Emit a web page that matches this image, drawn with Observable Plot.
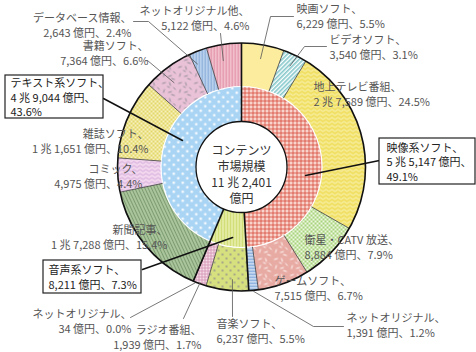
<!DOCTYPE html>
<html><head><meta charset="utf-8">
<script src="https://cdn.jsdelivr.net/npm/d3@7"></script>
<script src="https://cdn.jsdelivr.net/npm/@observablehq/plot@0.6"></script>
<style>
body{margin:0;background:#fff;}
#chart svg{display:block;}
</style>
</head><body>
<svg width="0" height="0" style="position:absolute">
<defs>
<pattern id="pVideo" width="4" height="4" patternUnits="userSpaceOnUse">
  <rect width="4" height="4" fill="#ee9f92"/>
  <path d="M0 2.5H4M2.5 0V4" stroke="#fbe6e1" stroke-width="1"/>
  <path d="M0 0.5H4M0.5 0V4" stroke="#dd6a5a" stroke-width="0.8"/>
</pattern>
<pattern id="pText" width="9" height="9" patternUnits="userSpaceOnUse">
  <rect width="9" height="9" fill="#a9d4f4"/>
  <circle cx="2.25" cy="2.25" r="1.2" fill="#fff"/>
  <circle cx="6.75" cy="6.75" r="1.2" fill="#fff"/>
</pattern>
<pattern id="pAudio" width="3" height="3" patternUnits="userSpaceOnUse">
  <rect width="3" height="3" fill="#d2df78"/>
  <rect width="1" height="3" fill="#eff5c6"/>
</pattern>
<pattern id="pMovie" width="4" height="4" patternUnits="userSpaceOnUse">
  <rect width="4" height="4" fill="#fcec9e"/>
</pattern>
<pattern id="pVideoSoft" width="3" height="3" patternUnits="userSpaceOnUse" patternTransform="rotate(45)">
  <rect width="3" height="3" fill="#ffffff"/>
  <rect width="1.6" height="3" fill="#84c8ca"/>
</pattern>
<pattern id="pTV" width="6" height="4" patternUnits="userSpaceOnUse">
  <rect width="6" height="4" fill="#f0df62"/>
  <path d="M0 2 L1.5 1 L3 2 L4.5 3 L6 2" fill="none" stroke="#fffbe2" stroke-width="0.8"/>
</pattern>
<pattern id="pSat" width="4" height="4" patternUnits="userSpaceOnUse">
  <rect width="4" height="4" fill="#eef7e2"/>
  <rect width="2" height="2" fill="#a8d27c"/>
  <rect x="2" y="2" width="2" height="2" fill="#a8d27c"/>
</pattern>
<pattern id="pGame" width="16" height="16" patternUnits="userSpaceOnUse">
  <rect width="16" height="16" fill="#e8aba4"/>
  <path d="M2 3l3 -1 M9 2l1 3 M13 7l2 2 M4 9l-1 3 M8 12l3 -1 M11 14l3 1 M7 6l2 1" stroke="#fff" stroke-width="0.9" stroke-linecap="round"/>
</pattern>
<pattern id="pNetV" width="3" height="3" patternUnits="userSpaceOnUse">
  <rect width="3" height="3" fill="#e4edf9"/>
  <rect width="3" height="1.6" fill="#7ea6da"/>
</pattern>
<pattern id="pMusic" width="8" height="8" patternUnits="userSpaceOnUse">
  <rect width="8" height="8" fill="#d6e07e"/>
  <circle cx="2" cy="2" r="1.1" fill="#9a9a8c"/>
  <circle cx="6" cy="6" r="1.1" fill="#9a9a8c"/>
</pattern>
<pattern id="pRadio" width="3" height="3" patternUnits="userSpaceOnUse">
  <rect width="3" height="3" fill="#f5dde8"/>
  <path d="M0 0.5H3M0.5 0V3" stroke="#d79cb9" stroke-width="1"/>
</pattern>
<pattern id="pNetA" width="3" height="3" patternUnits="userSpaceOnUse">
  <rect width="3" height="3" fill="#dba6be"/>
</pattern>
<pattern id="pNews" width="3" height="3" patternUnits="userSpaceOnUse" patternTransform="rotate(-25)">
  <rect width="3" height="3" fill="#aac59c"/>
  <rect width="1" height="3" fill="#7d9b70"/>
</pattern>
<pattern id="pComic" width="6" height="4" patternUnits="userSpaceOnUse">
  <rect width="6" height="4" fill="#f3d8ef"/>
  <path d="M0 2 L1.5 1 L3 2 L4.5 3 L6 2" fill="none" stroke="#c493cf" stroke-width="0.8"/>
</pattern>
<pattern id="pMag" width="4" height="4" patternUnits="userSpaceOnUse">
  <rect width="4" height="4" fill="#f8f1be"/>
  <rect width="2" height="2" fill="#e2d768"/>
  <rect x="2" y="2" width="2" height="2" fill="#e2d768"/>
</pattern>
<pattern id="pBook" width="16" height="16" patternUnits="userSpaceOnUse">
  <rect width="16" height="16" fill="#eac2d7"/>
  <path d="M2 3l3 -1 M9 2l1 3 M13 7l2 2 M4 9l-1 3 M8 12l3 -1 M11 14l3 1 M7 6l2 1" stroke="#858591" stroke-width="0.9" stroke-linecap="round"/>
</pattern>
<pattern id="pDB" width="3" height="3" patternUnits="userSpaceOnUse">
  <rect width="3" height="3" fill="#cadcf2"/>
  <rect width="1.5" height="3" fill="#86abd9"/>
</pattern>
<pattern id="pNetT" width="3" height="3" patternUnits="userSpaceOnUse">
  <rect width="3" height="3" fill="#f6ced8"/>
  <rect width="1.5" height="3" fill="#e290a6"/>
</pattern>
</defs>
</svg>
<div id="chart"></div>
<script>
// ---------- data ----------
const groupNames = ["映像系ソフト", "音声系ソフト", "テキスト系ソフト"];
const groupValues = [55147, 8211, 49044];
const groupShares = [49.1, 7.3, 43.6];

const itemNames = ["映画ソフト", "ビデオソフト", "地上テレビ番組", "衛星・CATV 放送", "ゲームソフト", "ネットオリジナル",
  "音楽ソフト", "ラジオ番組", "ネットオリジナル",
  "新聞記事", "コミック", "雑誌ソフト", "書籍ソフト", "データベース情報", "ネットオリジナル他"];
const itemGroups = [0, 0, 0, 0, 0, 0, 1, 1, 1, 2, 2, 2, 2, 2, 2];
const itemValues = [6229, 3540, 27589, 8884, 7515, 1391, 6237, 1939, 34, 17288, 4975, 11651, 7364, 2643, 5122];
const itemShares = [5.5, 3.1, 24.5, 7.9, 6.7, 1.2, 5.5, 1.7, 0.0, 15.4, 4.4, 10.4, 6.6, 2.4, 4.6];

const totalValue = 112401;
const centerTitle = ["コンテンツ", "市場規模"];
const unit = "億円";

// ---------- styles ----------
const groupFills = ["url(#pVideo)", "url(#pAudio)", "url(#pText)"];
const itemFills = ["url(#pMovie)", "url(#pVideoSoft)", "url(#pTV)", "url(#pSat)", "url(#pGame)", "url(#pNetV)",
  "url(#pMusic)", "url(#pRadio)", "url(#pNetA)",
  "url(#pNews)", "url(#pComic)", "url(#pMag)", "url(#pBook)", "url(#pDB)", "url(#pNetT)"];

// ---------- layout (pixels) ----------
const W = 476, H = 352;
const CX = 241, CY = 166.5, R_OUT = 124, R_MID = 80.5, R_IN = 45.5;
const FONT = "'Noto Sans CJK JP', 'Noto Sans', sans-serif";

const itemLayout = [
  {x: 296, y: 15.5, anchor: "start", leader: [[293, 16], [270, 16]], r: 110, da: 0},
  {x: 329, y: 46, anchor: "start", leader: [[326, 46], [304, 46]], r: 112, da: 0},
  {x: 313, y: 93.5, anchor: "start"},
  {x: 304, y: 246, anchor: "start"},
  {x: 274, y: 287, anchor: "start"},
  {x: 346, y: 324, anchor: "start", leader: [[343, 326], [313, 326]], r: 125, da: 0},
  {x: 216, y: 330.5, anchor: "start", leader: [[232, 316]], r: 113, da: -2},
  {x: 201, y: 336.5, anchor: "end", leader: [[183, 318]], r: 123, da: 0},
  {x: 131, y: 320.5, anchor: "end", leader: [[130, 317]], r: 125, da: -1},
  {x: 167, y: 236.5, anchor: "end"},
  {x: 142, y: 175, anchor: "end"},
  {x: 148, y: 140, anchor: "end"},
  {x: 148, y: 52.5, anchor: "end", leader: [[147, 60]], r: 108, da: -2},
  {x: 131, y: 24, anchor: "end", leader: [[133, 21], [148, 21]], r: 112, da: -2.5},
  {x: 249, y: 17.5, anchor: "end", leader: [[220, 33]], r: 108, da: -1.5}
];
const groupLayout = [
  {box: [379, 138, 475, 184], x: 386, y: 161, wrapPct: true, leader: [[379, 160]], r: 64.6, da: 9.2},
  {box: [43, 260, 141, 293], x: 48, y: 276.5, wrapPct: false, leader: [[142, 269]], r: 71, da: -2.6},
  {box: [5, 75, 103, 118], x: 10, y: 96.5, wrapPct: true, leader: [[103, 98]], r: 64.7, da: 12.7}
];
const centerLayout = {x: CX, y: 173};

// ---------- helpers ----------
const fmtNum = d3.format(",");
function fmtOku(v) {
  const cho = Math.floor(v / 10000), rest = v % 10000;
  return cho > 0 ? `${cho} 兆 ${fmtNum(rest)}` : fmtNum(v);
}
const rad = (deg) => deg * Math.PI / 180;
const px = (a, r) => CX + r * Math.sin(a);
const py = (a, r) => CY - r * Math.cos(a);

function cumAngles(values) {
  const sum = d3.sum(values);
  let acc = 0;
  return values.map(v => {
    const a0 = acc / sum * 2 * Math.PI;
    acc += v;
    return [a0, acc / sum * 2 * Math.PI];
  });
}
const groupAngles = cumAngles(groupValues);
const itemAngles = cumAngles(itemValues);

function arcPoly(id, fill, a0, a1, r0, r1) {
  const n = Math.max(2, Math.ceil((a1 - a0) / rad(0.5)));
  const pts = [];
  for (let i = 0; i <= n; i++) { const a = a0 + (a1 - a0) * i / n; pts.push({id, fill, x: px(a, r1), y: py(a, r1)}); }
  for (let i = n; i >= 0; i--) { const a = a0 + (a1 - a0) * i / n; pts.push({id, fill, x: px(a, r0), y: py(a, r0)}); }
  return pts;
}

const segPts = [];
groupAngles.forEach(([a0, a1], i) => segPts.push(...arcPoly("g" + i, groupFills[i], a0, a1, R_IN, R_MID)));
itemAngles.forEach(([a0, a1], i) => segPts.push(...arcPoly("i" + i, itemFills[i], a0, a1, R_MID, R_OUT)));

const itemBounds = itemAngles.map(([a0]) => ({x1: px(a0, R_MID), y1: py(a0, R_MID), x2: px(a0, R_OUT), y2: py(a0, R_OUT)}));
const groupBounds = groupAngles.map(([a0]) => ({x1: px(a0, R_IN), y1: py(a0, R_IN), x2: px(a0, R_OUT), y2: py(a0, R_OUT)}));

const itemLabels = itemNames.map((name, i) => ({
  ...itemLayout[i],
  text: `${name}、\n${fmtOku(itemValues[i])} ${unit}、${itemShares[i].toFixed(1)}%`
}));
const groupLabels = groupNames.map((name, i) => ({
  ...groupLayout[i],
  text: `${name}、\n${fmtOku(groupValues[i])} ${unit}、${groupLayout[i].wrapPct ? "\n" : ""}${groupShares[i].toFixed(1)}%`
}));
const boxes = groupLayout.map(g => ({x1: g.box[0], y1: g.box[1], x2: g.box[2], y2: g.box[3]}));

function leaderPts(layouts, angles, prefix) {
  const out = [];
  layouts.forEach((L, i) => {
    if (!L.leader) return;
    L.leader.forEach(([x, y]) => out.push({id: prefix + i, x, y}));
    const a = (angles[i][0] + angles[i][1]) / 2 + rad(L.da);
    out.push({id: prefix + i, x: px(a, L.r), y: py(a, L.r)});
  });
  return out;
}
const itemLeaders = leaderPts(itemLayout, itemAngles, "il");
const groupLeaders = leaderPts(groupLayout, groupAngles, "gl");

const centerText = [{...centerLayout, text: `${centerTitle.join("\n")}\n${fmtOku(totalValue)}\n${unit}`}];

const chart = Plot.plot({
  width: W, height: H,
  margin: 0,
  x: {domain: [0, W], range: [0, W], axis: null},
  y: {domain: [0, H], range: [0, H], axis: null},
  color: {type: "identity"},
  style: {fontFamily: FONT, background: "#fff"},
  marks: [
    Plot.line(segPts, {x: "x", y: "y", z: "id", fill: "fill", stroke: null, curve: "linear-closed"}),
    Plot.dot([{x: CX, y: CY}], {x: "x", y: "y", r: R_MID, fill: "none", stroke: "#fff", strokeWidth: 1.2}),
    Plot.link(itemBounds, {x1: "x1", y1: "y1", x2: "x2", y2: "y2", stroke: "#3a3a3a", strokeWidth: 0.8}),
    Plot.link(groupBounds, {x1: "x1", y1: "y1", x2: "x2", y2: "y2", stroke: "#111", strokeWidth: 1.6}),
    Plot.dot([{x: CX, y: CY}], {x: "x", y: "y", r: R_OUT, fill: "none", stroke: "#111", strokeWidth: 1.6}),
    Plot.dot([{x: CX, y: CY}], {x: "x", y: "y", r: R_IN, fill: "#fff", stroke: "#111", strokeWidth: 1.3}),
    Plot.line(itemLeaders, {x: "x", y: "y", z: "id", stroke: "#555", strokeWidth: 0.8}),
    Plot.line(groupLeaders, {x: "x", y: "y", z: "id", stroke: "#111", strokeWidth: 1.5}),
    Plot.rect(boxes, {x1: "x1", x2: "x2", y1: "y1", y2: "y2", fill: "#fff", stroke: "#222", strokeWidth: 1.2}),
    Plot.text(itemLabels.filter(d => d.anchor === "start"), {x: "x", y: "y", text: "text", textAnchor: "start", lineAnchor: "middle", fontSize: 11, lineHeight: 1.33, fill: "#555"}),
    Plot.text(itemLabels.filter(d => d.anchor === "end"), {x: "x", y: "y", text: "text", textAnchor: "end", lineAnchor: "middle", fontSize: 11, lineHeight: 1.33, fill: "#555"}),
    Plot.text(groupLabels, {x: "x", y: "y", text: "text", textAnchor: "start", lineAnchor: "middle", fontSize: 11, lineHeight: 1.33, fill: "#222"}),
    Plot.text(centerText, {x: "x", y: "y", text: "text", textAnchor: "middle", lineAnchor: "middle", fontSize: 12, lineHeight: 1.33, fill: "#333"})
  ]
});
document.getElementById("chart").appendChild(chart);
</script>
</body></html>
